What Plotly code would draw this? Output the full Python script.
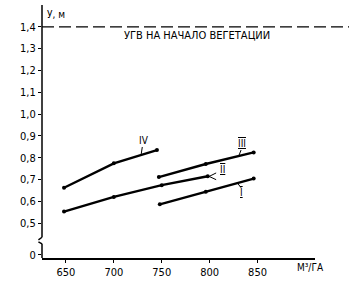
import plotly.graph_objects as go

# Data
x_I = [748, 796, 846]
y_I = [0.586, 0.644, 0.704]
x_II = [648, 700, 750, 798]
y_II = [0.553, 0.620, 0.674, 0.715]
x_III = [747, 796, 846]
y_III = [0.711, 0.771, 0.824]
x_IV = [648, 700, 745]
y_IV = [0.662, 0.774, 0.835]

x_tickvals = [650, 700, 750, 800, 850]
x_ticktext = ["650", "700", "750", "800", "850"]
y_tickvals = [0.354, 0.5, 0.6, 0.7, 0.8, 0.9, 1.0, 1.1, 1.2, 1.3, 1.4]
y_ticktext = ["0", "0,5", "0,6", "0,7", "0,8", "0,9", "1,0", "1,1", "1,2", "1,3", "1,4"]
ugv_level = 1.4

FONT = "Liberation Sans Narrow, DejaVu Sans Condensed, Liberation Sans, sans-serif"

fig = go.Figure()
for xs, ys in [(x_I, y_I), (x_II, y_II), (x_III, y_III), (x_IV, y_IV)]:
    fig.add_trace(go.Scatter(x=xs, y=ys, mode="lines+markers",
                             line=dict(color="black", width=2.4),
                             marker=dict(color="black", size=4),
                             showlegend=False, hoverinfo="skip"))

shapes = []
# dashed groundwater line
shapes.append(dict(type="line", xref="paper", yref="y", x0=0, x1=1.13,
                   y0=ugv_level, y1=ugv_level,
                   line=dict(color="black", width=1.3, dash="12px,5px")))
# broken y axis
ax = dict(color="black", width=1.5)
shapes += [
    dict(type="line", xref="paper", yref="paper", x0=0, x1=0, y0=0.082, y1=1.0, line=ax),
    dict(type="line", xref="paper", yref="paper", x0=0, x1=-0.013, y0=0.082, y1=0.072, line=ax),
    dict(type="line", xref="paper", yref="paper", x0=0, x1=0, y0=0, y1=0.056, line=ax),
    dict(type="line", xref="paper", yref="paper", x0=0, x1=-0.013, y0=0.056, y1=0.064, line=ax),
]
# label leaders
lw = dict(color="black", width=1)
shapes += [
    dict(type="line", x0=729.7, x1=728.6, y0=0.849, y1=0.817, line=lw),
    dict(type="line", x0=832.8, x1=830.7, y0=0.835, y1=0.811, line=lw),
    dict(type="line", x0=806.8, x1=799.5, y0=0.730, y1=0.714, line=lw),
    dict(type="line", x0=799.5, x1=806.8, y0=0.714, y1=0.699, line=lw),
    dict(type="line", x0=829.7, x1=832.8, y0=0.680, y1=0.662, line=lw),
]

ann_font = dict(family=FONT, size=10, color="black")
annotations = [
    dict(x=731, y=0.881, text="IV", showarrow=False, font=ann_font),
    dict(x=833.5, y=0.866, text="<span style='text-decoration:overline underline'>III</span>",
         showarrow=False, font=ann_font),
    dict(x=813, y=0.745, text="<span style='text-decoration:overline underline'>II</span>",
         showarrow=False, font=ann_font),
    dict(x=833.5, y=0.639, text="<span style='text-decoration:overline underline'>I</span>",
         showarrow=False, font=ann_font),
    dict(x=787, y=1.361, text="УГВ НА НАЧАЛО ВЕГЕТАЦИИ", showarrow=False,
         font=dict(family=FONT, size=11, color="black")),
    dict(xref="paper", yref="paper", x=0.011, y=0.961, xanchor="left", yanchor="middle",
         text="У, м", showarrow=False, font=ann_font),
    dict(xref="paper", yref="paper", x=0.982, y=-0.037, xanchor="center", yanchor="middle",
         text="М³/ГА", showarrow=False, font=ann_font),
]

fig.update_layout(
    width=349, height=284,
    margin=dict(l=42, r=34, t=5, b=23),
    paper_bgcolor="white", plot_bgcolor="white",
    shapes=shapes, annotations=annotations,
    xaxis=dict(range=[625, 910], tickvals=x_tickvals, ticktext=x_ticktext,
               showgrid=False, zeroline=False, showline=True, linecolor="black",
               linewidth=1.5, ticks="outside", ticklen=3, tickcolor="black",
               tickfont=dict(family=FONT, size=11, color="black")),
    yaxis=dict(range=[0.34, 1.5], tickvals=y_tickvals, ticktext=y_ticktext,
               showgrid=False, zeroline=False, showline=False,
               ticks="outside", ticklen=3, tickcolor="black",
               tickfont=dict(family=FONT, size=11, color="black")),
)

fig.write_html("out.html", config={"displayModeBar": False},
               post_script="document.body.style.margin='0';document.body.style.overflow='hidden';")
